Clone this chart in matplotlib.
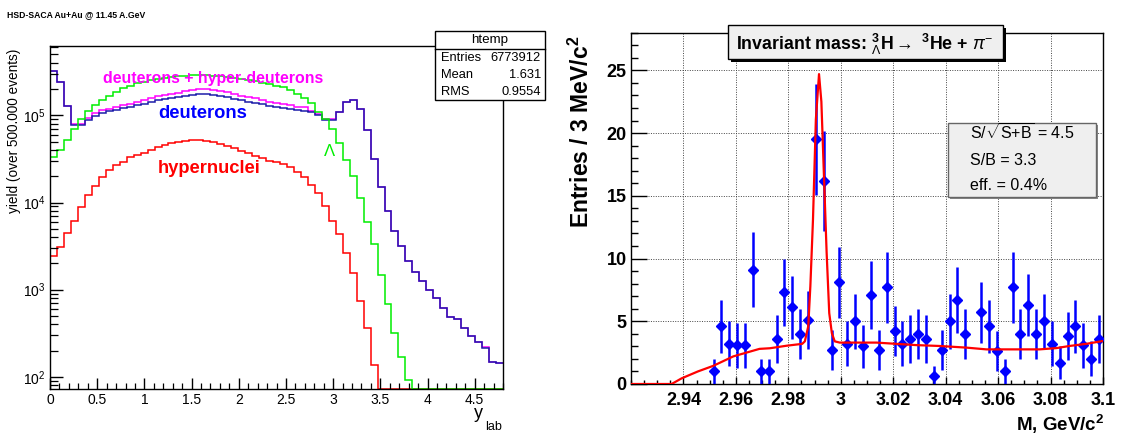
import numpy as np
import matplotlib
matplotlib.use('Agg')
import matplotlib.pyplot as plt
from matplotlib.patches import Rectangle
from matplotlib.lines import Line2D
from matplotlib.ticker import MultipleLocator, FixedLocator, FixedFormatter, LogLocator, NullFormatter

plt.rcParams['font.family'] = ['Liberation Sans', 'DejaVu Sans']
plt.rcParams['mathtext.fontset'] = 'custom'
plt.rcParams['mathtext.rm'] = 'Liberation Sans'
plt.rcParams['mathtext.it'] = 'Liberation Sans:italic'
plt.rcParams['mathtext.bf'] = 'Liberation Sans:bold'

W, H = 1122, 434

# ---- left panel: rapidity distributions (65 bins over 0..4.8) ----
y_range = (0.0, 4.8)
n_bins = 65

deuterons = [3.25e5, 2.39e5, 1.29e5, 7.7e4, 7.7e4, 8.8e4, 9.8e4, 1.07e5, 1.11e5, 1.15e5,
             1.20e5, 1.25e5, 1.31e5, 1.36e5, 1.42e5, 1.49e5, 1.54e5, 1.59e5, 1.64e5, 1.68e5,
             1.72e5, 1.74e5, 1.75e5, 1.72e5, 1.67e5, 1.62e5, 1.55e5, 1.50e5, 1.44e5, 1.40e5,
             1.34e5, 1.29e5, 1.26e5, 1.21e5, 1.19e5, 1.16e5, 1.13e5, 1.08e5, 1.01e5, 8.8e4,
             8.8e4, 1.08e5, 1.41e5, 1.50e5, 1.17e5, 6.8e4, 3.16e4, 1.52e4, 7.9e3, 4.76e3,
             3.2e3, 2.15e3, 1.61e3, 1.27e3, 990, 800, 620, 490, 460, 367,
             297, 253, 216, 147, 143]

deut_hyper = [3.25e5, 2.39e5, 1.29e5, 7.9e4, 7.9e4, 9.2e4, 1.05e5, 1.15e5, 1.19e5, 1.25e5,
              1.31e5, 1.36e5, 1.43e5, 1.51e5, 1.58e5, 1.65e5, 1.71e5, 1.77e5, 1.82e5, 1.91e5,
              1.96e5, 1.98e5, 2.00e5, 1.96e5, 1.90e5, 1.85e5, 1.77e5, 1.68e5, 1.61e5, 1.57e5,
              1.50e5, 1.44e5, 1.40e5, 1.34e5, 1.32e5, 1.26e5, 1.23e5, 1.12e5, 1.04e5, 9.1e4,
              9.1e4, 1.10e5, 1.41e5, 1.50e5, 1.17e5, 6.8e4, 3.16e4, 1.52e4, 7.9e3, 4.76e3,
              3.2e3, 2.15e3, 1.61e3, 1.27e3, 990, 800, 620, 490, 460, 367,
              297, 253, 222, 147, 143]

lambdas = [3.3e4, 4.0e4, 5.2e4, 6.9e4, 9.0e4, 1.13e5, 1.31e5, 1.50e5, 1.66e5, 1.87e5,
           2.04e5, 2.19e5, 2.33e5, 2.43e5, 2.54e5, 2.61e5, 2.68e5, 2.74e5, 2.80e5, 2.85e5,
           2.89e5, 2.90e5, 2.89e5, 2.86e5, 2.82e5, 2.77e5, 2.70e5, 2.62e5, 2.55e5, 2.46e5,
           2.35e5, 2.30e5, 2.15e5, 2.10e5, 1.95e5, 1.75e5, 1.57e5, 1.37e5, 1.10e5, 9.0e4,
           6.9e4, 4.8e4, 3.1e4, 2.0e4, 1.12e4, 5.9e3, 3.3e3, 1.46e3, 680, 316,
           168, 92, 0, 0, 0, 0, 0, 0, 0, 0,
           0, 0, 0, 0, 0]

hypernuclei = [2.43e3, 3.06e3, 4.43e3, 6.18e3, 8.95e3, 1.22e4, 1.56e4, 1.98e4, 2.36e4, 2.69e4,
               2.94e4, 3.3e4, 3.5e4, 3.73e4, 4.0e4, 4.3e4, 4.53e4, 4.77e4, 4.98e4, 5.11e4,
               5.21e4, 5.21e4, 5.1e4, 4.94e4, 4.69e4, 4.45e4, 4.18e4, 3.9e4, 3.67e4, 3.41e4,
               3.21e4, 3.02e4, 2.9e4, 2.76e4, 2.53e4, 2.26e4, 1.98e4, 1.59e4, 1.28e4, 9.0e3,
               6.18e3, 4.35e3, 2.66e3, 1.57e3, 748, 361, 137, 0, 0, 0,
               0, 0, 0, 0, 0, 0, 0, 0, 0, 0,
               0, 0, 0, 0, 0]

stats_rows = [('Entries', '6773912'), ('Mean', '1.631'), ('RMS', '0.9554')]

# ---- right panel: invariant mass ----
mass = [2.9515, 2.9545, 2.9575, 2.9605, 2.9635, 2.9665, 2.9695, 2.9725, 2.9755, 2.9785,
        2.9815, 2.9845, 2.9875, 2.9905, 2.9935, 2.9965, 2.9995, 3.0025, 3.0055, 3.0085,
        3.0115, 3.0145, 3.0175, 3.0205, 3.0235, 3.0265, 3.0295, 3.0325, 3.0355, 3.0385,
        3.0415, 3.0445, 3.0475, 3.0535, 3.0565, 3.0595, 3.0625, 3.0655, 3.0685, 3.0715,
        3.0745, 3.0775, 3.0805, 3.0835, 3.0865, 3.0895, 3.0925, 3.0955, 3.0985]
entries = [1.0, 4.6, 3.2, 3.1, 3.1, 9.1, 1.0, 1.0, 3.6, 7.3,
           6.1, 4.0, 5.1, 19.5, 16.2, 2.7, 8.1, 3.2, 5.0, 3.0,
           7.1, 2.7, 7.7, 4.2, 3.2, 3.6, 4.0, 3.6, 0.6, 2.7,
           5.0, 6.7, 4.0, 5.7, 4.6, 2.6, 1.0, 7.7, 4.0, 6.3,
           4.0, 5.0, 3.2, 1.7, 3.8, 4.6, 3.1, 2.0, 3.6]
entries_err = [1.0, 2.1, 1.8, 1.8, 1.8, 3.0, 1.0, 1.0, 1.9, 2.7,
               2.5, 2.0, 2.3, 4.4, 4.0, 1.6, 2.8, 1.8, 2.2, 1.7,
               2.7, 1.6, 2.8, 2.0, 1.8, 1.9, 2.0, 1.9, 0.8, 1.6,
               2.2, 2.6, 2.0, 2.4, 2.1, 1.6, 1.0, 2.8, 2.0, 2.5,
               2.0, 2.2, 1.8, 1.3, 1.9, 2.1, 1.8, 1.4, 1.9]

fit_mass = [2.92, 2.9355, 2.9393, 2.9455, 2.9514, 2.959, 2.969, 2.973, 2.9793, 2.9853,
            2.9863, 2.9876, 2.9884, 2.9894, 2.9905, 2.9917, 2.9926, 2.9935, 2.9946, 2.9956,
            2.9966, 2.9977, 2.9996, 3.0136, 3.0212, 3.0288, 3.0377, 3.0479, 3.0555, 3.0758,
            3.0822, 3.0872, 3.0936, 3.1]
fit_val = [0, 0, 0.45, 1.0, 1.45, 2.2, 2.8, 2.85, 3.05, 3.2,
           3.4, 4.6, 7.8, 13.1, 21.1, 24.7, 22.5, 17.1, 10.5, 5.65,
           4.05, 3.4, 3.3, 3.3, 3.2, 3.1, 3.03, 2.9, 2.76, 2.76,
           2.86, 3.03, 3.2, 3.43]

info_lines = [r'S/$\sqrt{\mathrm{S{+}B}}$ = 4.5', 'S/B = 3.3', 'eff. = 0.4%']


def fx(x):
    return x / W


def fy(y):
    return 1 - y / H


fig = plt.figure(figsize=(W / 100, H / 100), dpi=100)

# ================= left panel =================
ax1 = fig.add_axes([fx(50), fy(389), 453 / W, 343 / H])
y_lo, y_hi = 72.6, 6.24e5
edges = np.linspace(y_range[0], y_range[1], n_bins + 1)
for vals, col in [(deut_hyper, '#ff00ff'), (deuterons, '#1c1caa'),
                  (hypernuclei, '#ff0000'), (lambdas, '#00ee00')]:
    v = np.maximum(np.array(vals, dtype=float), y_lo)
    ax1.stairs(v, edges, color=col, lw=1.1, baseline=None)

ax1.set_yscale('log')
ax1.set_xlim(*y_range)
ax1.set_ylim(y_lo, y_hi)
ax1.xaxis.set_major_locator(MultipleLocator(0.5))
ax1.xaxis.set_minor_locator(MultipleLocator(0.1))
ax1.xaxis.set_major_formatter(plt.FuncFormatter(lambda v, p: '%g' % v))
ax1.yaxis.set_major_locator(LogLocator(base=10))
ax1.yaxis.set_minor_locator(LogLocator(base=10, subs=np.arange(2, 10)))
ax1.yaxis.set_minor_formatter(NullFormatter())
ax1.tick_params(axis='x', which='major', direction='in', length=8, width=1, labelsize=10, pad=3)
ax1.tick_params(axis='x', which='minor', direction='in', length=4.3, width=0.9)
ax1.tick_params(axis='y', which='major', direction='in', length=9.4, width=1, labelsize=10, pad=3)
ax1.tick_params(axis='y', which='minor', direction='in', length=5.8, width=0.9)
for s in ax1.spines.values():
    s.set_linewidth(1)

fig.text(fx(7), fy(14.5), 'HSD-SACA Au+Au @ 11.45 A.GeV', fontsize=6.2, fontweight='bold',
         ha='left', va='center')
fig.text(fx(14), fy(131), 'yield (over 500.000 events)', fontsize=9.8, rotation=90,
         ha='center', va='center')
fig.text(fx(474), fy(418), 'y', fontsize=13, ha='left', va='baseline')
fig.text(fx(485), fy(430), 'lab', fontsize=9, ha='left', va='baseline')

fig.text(fx(213), fy(82.7), 'deuterons + hyper-deuterons', color='#ff00ff', fontsize=11.4,
         fontweight='bold', ha='center', va='baseline')
fig.text(fx(158), fy(118.3), 'deuterons', color='#0000ff', fontsize=13.2, fontweight='bold',
         ha='left', va='baseline')
fig.text(fx(158), fy(173.3), 'hypernuclei', color='#ff0000', fontsize=13.2, fontweight='bold',
         ha='left', va='baseline')
fig.text(fx(329.5), fy(151), '\u039b', color='#00ee00', fontsize=12, ha='center', va='center')

# stats box
fig.add_artist(Rectangle((fx(435), fy(100)), 110 / W, 69 / H, transform=fig.transFigure,
                         fc='white', ec='black', lw=1))
fig.add_artist(Line2D([fx(435), fx(545)], [fy(48.7), fy(48.7)], transform=fig.transFigure,
                      color='black', lw=1))
fig.text(fx(490), fy(40), 'htemp', fontsize=9.6, ha='center', va='center')
for i, (lab, val) in enumerate(stats_rows):
    yy = 58 + 17 * i
    fig.text(fx(441), fy(yy), lab, fontsize=9.3, ha='left', va='center')
    fig.text(fx(541), fy(yy), val, fontsize=9.3, ha='right', va='center')

# ================= right panel =================
ax2 = fig.add_axes([fx(631), fy(384), 472 / W, 351.3 / H])
ax2.errorbar(mass, entries, yerr=entries_err, fmt='D', color='#0000ff', ms=4.6,
             elinewidth=1.8, capsize=0, zorder=3)
ax2.plot(fit_mass, fit_val, color='#ff0000', lw=1.6, zorder=4)
ax2.set_xlim(2.92, 3.1)
ax2.set_ylim(0, 28)
xt = [2.94, 2.96, 2.98, 3.0, 3.02, 3.04, 3.06, 3.08, 3.1]
ax2.xaxis.set_major_locator(FixedLocator(xt))
ax2.xaxis.set_major_formatter(FixedFormatter(['%g' % v for v in xt]))
ax2.xaxis.set_minor_locator(MultipleLocator(0.005))
ax2.yaxis.set_major_locator(MultipleLocator(5))
ax2.yaxis.set_minor_locator(MultipleLocator(1))
ax2.grid(True, which='major', ls=(0, (1, 1.5)), color='#444444', lw=0.7)
ax2.tick_params(axis='x', which='major', direction='in', length=5, width=1, labelsize=13, pad=6)
ax2.tick_params(axis='x', which='minor', direction='in', length=3, width=1)
ax2.tick_params(axis='y', which='major', direction='in', length=11.5, width=1, labelsize=13, pad=3)
ax2.tick_params(axis='y', which='minor', direction='in', length=5, width=1)
for t in ax2.get_xticklabels() + ax2.get_yticklabels():
    t.set_fontweight('bold')
for s in ax2.spines.values():
    s.set_linewidth(1)
ax2.set_axisbelow(True)

fig.text(fx(581), fy(132), r'Entries / 3 MeV/c$^{\mathbf{2}}$', fontsize=16.5, fontweight='bold',
         rotation=90, ha='center', va='center')
fig.text(fx(1104), fy(431), r'M, GeV/c$^{\mathbf{2}}$', fontsize=13.5, fontweight='bold',
         ha='right', va='baseline')

# title box with shadow
fig.add_artist(Rectangle((fx(730.7), fy(62.3)), 275.3 / W, 34.3 / H, transform=fig.transFigure,
                         fc='black', ec='none'))
fig.add_artist(Rectangle((fx(727.7), fy(59.3)), 275.3 / W, 34.3 / H, transform=fig.transFigure,
                         fc='#efefef', ec='black', lw=1))
fig.text(fx(865), fy(50),
         r'Invariant mass: $^{\mathbf{3}}_{\mathrm{\Lambda}}$H$\rightarrow$ $^{\mathbf{3}}$He + $\pi^{-}$',
         fontsize=12.8, fontweight='bold', ha='center', va='baseline')

# info box
fig.add_artist(Rectangle((fx(950), fy(199)), 148 / W, 74 / H, transform=fig.transFigure,
                         fc='#888888', ec='none'))
fig.add_artist(Rectangle((fx(948), fy(197)), 148 / W, 74 / H, transform=fig.transFigure,
                         fc='#efefef', ec='#666666', lw=1))
for i, line in enumerate(info_lines):
    fig.text(fx(970), fy(140 + 25 * i), line, fontsize=11.5, ha='left', va='baseline')

fig.savefig('out.png', dpi=100)
